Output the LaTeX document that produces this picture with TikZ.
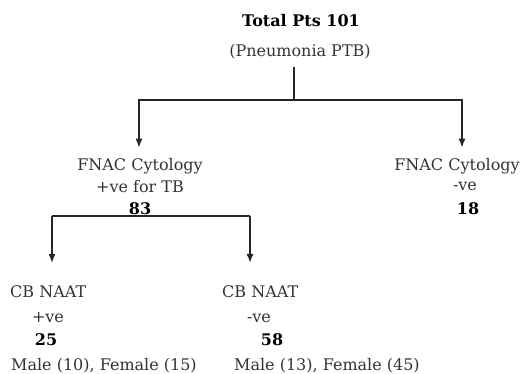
\documentclass[tikz,border=0pt]{standalone}
\usepackage{fontspec}
\setmainfont{DejaVu Serif}
\usetikzlibrary{arrows.meta}
\usetikzlibrary{positioning}
\tikzstyle{txt} = [anchor=base, inner sep=0pt, text=black!80, font=\fontsize{16}{20}\selectfont]
\tikzstyle{num} = [txt, text=black, font=\fontsize{16}{20}\selectfont\bfseries]
\tikzstyle{wire} = [line width=1.3pt, draw=black!85]
\tikzstyle{arrow} = [wire,->,>={Latex[length=9pt,width=7pt]}]

\begin{document}
\begin{tikzpicture}[x=1pt, y=-1pt]
		\useasboundingbox (0,0) rectangle (524,373);

		\node (total) [num] at (301,26) {Total Pts 101};
		\node (pneumonia) [txt] at (300,56) {(Pneumonia PTB)};

		\node (fnac_pos) [txt] at (140,170) {FNAC Cytology};
		\node (fnac_pos_res) [txt] at (140,192) {+ve for TB};
		\node (fnac_pos_num) [num] at (140,214) {83};

		\node (fnac_neg) [txt] at (457,170) {FNAC Cytology};
		\node (fnac_neg_res) [txt] at (465,190) {-ve};
		\node (fnac_neg_num) [num] at (468,214) {18};

		\node (cb_pos) [txt, anchor=base west] at (10,297) {CB NAAT};
		\node (cb_pos_res) [txt] at (48,322) {+ve};
		\node (cb_pos_num) [num] at (46,345) {25};
		\node (cb_pos_sex) [txt, anchor=base west] at (11,370) {Male (10), Female (15)};

		\node (cb_neg) [txt, anchor=base west] at (222,297) {CB NAAT};
		\node (cb_neg_res) [txt] at (259,322) {-ve};
		\node (cb_neg_num) [num] at (272,345) {58};
		\node (cb_neg_sex) [txt, anchor=base west] at (234,370) {Male (13), Female (45)};

		\coordinate (split) at (294,100);
		\coordinate (bracket_l) at (52,216);
		\coordinate (bracket_r) at (250,216);

		% top level split
		\draw [wire, shorten <=8pt] (pneumonia.south -| split) -- (split);
		\draw [arrow, shorten >=10pt] (split) -| ([xshift=-1pt]fnac_pos.north);
		\draw [arrow, shorten >=10pt] (split) -| ([xshift=5pt]fnac_neg.north);

		% CB NAAT split
		\draw [wire] (bracket_l) -- (bracket_r);
		\draw [arrow, shorten >=22pt] (bracket_l) -- (bracket_l |- cb_pos.north);
		\draw [arrow, shorten >=22pt] (bracket_r) -- (bracket_r |- cb_neg.north);
	\end{tikzpicture}
\end{document}
